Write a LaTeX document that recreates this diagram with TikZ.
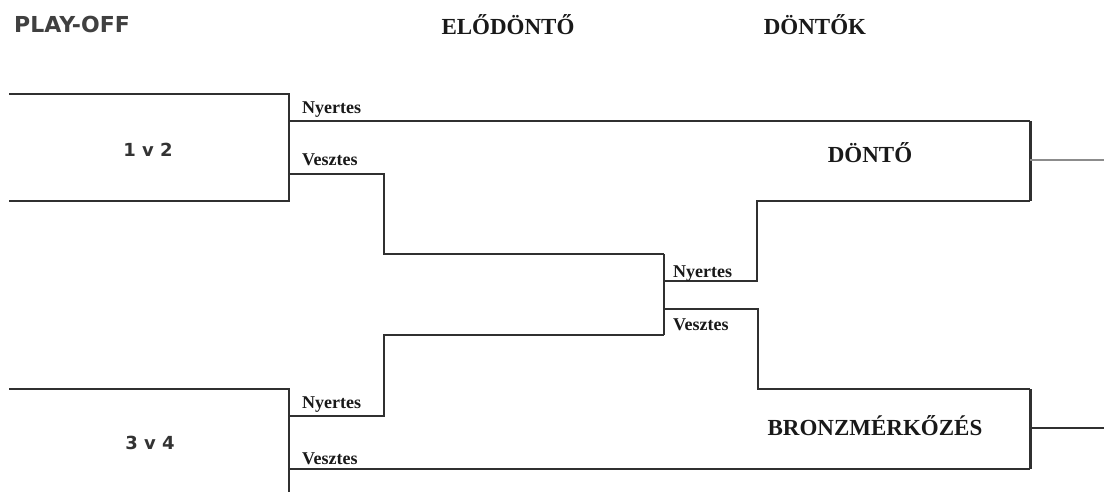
\documentclass[tikz,border=0pt]{standalone}
\usepackage{fontspec}
\setmainfont{Liberation Serif}
\newfontfamily\vsfont{DejaVu Sans}
\usepackage{tikz}
\usetikzlibrary{positioning}
\definecolor{linegray}{HTML}{303030}
\newcommand{\win}{Nyertes}
\newcommand{\lose}{Vesztes}
\tikzset{
  bracket/.style={draw=linegray, line width=2pt},
  edge/.style={draw=linegray, line width=3pt},
  outlab/.style={font=\fontsize{18}{19}\selectfont\bfseries, anchor=base west, inner sep=0pt},
  headlab/.style={font=\fontsize{23}{24}\selectfont\bfseries, anchor=base, inner sep=0pt},
  matchlab/.style={font=\vsfont\fontsize{18}{19}\selectfont\bfseries, anchor=base, inner sep=0pt, text=black!80}
}

\begin{document}
\begin{tikzpicture}[x=1pt, y=-1pt, every node/.style={text=black!90}]
  \useasboundingbox (0,0) rectangle (1104,492);

  % headings
  \node[anchor=base west, inner sep=0pt, text=black!75, font=\vsfont\fontsize{22}{23}\selectfont\bfseries] (playoff) at (14,33) {PLAY-OFF};
  \node[headlab] (semis) at (508,35) {ELŐDÖNTŐ};
  \node[headlab] (finals) at (815,35) {DÖNTŐK};

  % corner points
  \coordinate (a1) at (9,94);    \coordinate (a2) at (289,94);
  \coordinate (a3) at (289,201); \coordinate (a4) at (9,201);
  \coordinate (aw) at (289,121); \coordinate (al) at (289,174);
  \coordinate (b1) at (9,389);   \coordinate (b2) at (289,389);
  \coordinate (b3) at (289,492);
  \coordinate (bw) at (289,416); \coordinate (bl) at (289,469);
  \coordinate (s1) at (664,254); \coordinate (s2) at (664,335);
  \coordinate (sw) at (664,281); \coordinate (sl) at (664,309);
  \coordinate (f1) at (1030,121); \coordinate (f2) at (1030,201);
  \coordinate (g1) at (1030,389); \coordinate (g2) at (1030,469);
  \coordinate (fmid) at (1030,160); \coordinate (gmid) at (1030,428);
  \coordinate (fout) at (1104,160); \coordinate (gout) at (1104,428);

  % first match 1 v 2
  \draw[bracket] (a1) -- (a2) -- (a3) -- (a4);
  \node[matchlab] (m12) at (148,157) {1 v 2};
  \draw[bracket] (aw) -- (f1);
  \node[outlab] (w12) at (302,114) {\win};
  \draw[bracket] (al) -| (384,254) -- (s1);
  \node[outlab] (l12) at (302,166) {\lose};

  % second match 3 v 4
  \draw[bracket] (b1) -- (b2) -- (b3);
  \node[matchlab] (m34) at (150,449) {3 v 4};
  \draw[bracket] (bw) -| (384,335) -- (s2);
  \node[outlab] (w34) at (302,408) {\win};
  \draw[bracket] (bl) -- (g2);
  \node[outlab] (l34) at (302,464) {\lose};

  % semi final
  \draw[bracket] (s1) -- (s2);
  \draw[bracket] (sw) -| (757,201) -- (f2);
  \node[outlab] (ws) at (673,277) {\win};
  \draw[bracket] (sl) -| (758,389) -- (g1);
  \node[outlab] (ls) at (673,330) {\lose};

  % final and bronze
  \draw[edge] (f1) -- (f2);
  \draw[edge] (g1) -- (g2);
  \draw[draw=black!45, line width=2pt] (fmid) -- (fout);
  \draw[bracket] (gmid) -- (gout);
  \node[headlab] (final) at (870,163) {DÖNTŐ};
  \node[headlab] (bronze) at (875,435) {BRONZMÉRKŐZÉS};

\end{tikzpicture}
\end{document}
